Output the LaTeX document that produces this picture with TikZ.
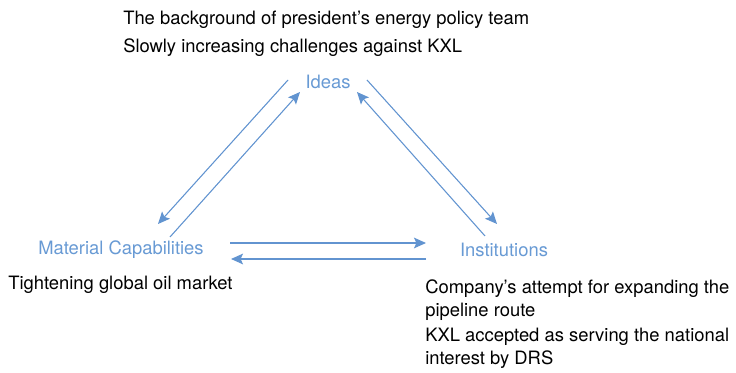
\documentclass[tikz,border=0pt]{standalone}
\usepackage{fontspec}
\setmainfont{TeX Gyre Heros}
\usepackage{tikz}
\usetikzlibrary{arrows.meta}

\definecolor{flowblue}{RGB}{98,148,208}
\definecolor{labelblue}{RGB}{104,154,212}

\tikzset{
  factor/.style={text=labelblue, inner sep=0pt, font=\fontsize{13.8}{17}\selectfont},
  note/.style={text=black, inner sep=0pt, align=left, font=\fontsize{13.8}{17.25}\selectfont},
  flow/.style={draw=flowblue, fill=flowblue, line width=0.8pt, -{Stealth[length=9pt,width=8pt,inset=1.8pt]}}
}

\begin{document}
\begin{tikzpicture}[x=0.75pt, y=-0.75pt]
  \useasboundingbox (0,0) rectangle (736,373);

  % the three factors
  \node[factor] (ideas) at (328,82) {Ideas};
  \node[factor] (matcap) at (121,250) {Material Capabilities};
  \node[factor] (inst) at (504,250) {Institutions};

  % notes (base = last line)
  \node[note, anchor=base west] (bg) at (123,25) {The background of president's energy policy team};
  \node[note, anchor=base west] (chal) at (123,53) {Slowly increasing challenges against KXL};
  \node[note, anchor=base west] (oil) at (8,290) {Tightening global oil market};
  \node[note, anchor=base west] (route) at (425,317) {Company's attempt for expanding the\\pipeline route};
  \node[note, anchor=base west] (drs) at (425,365) {KXL accepted as serving the national\\interest by DRS};

  \path
    ([shift={(-40,-2)}]ideas.center) edge[flow] ([shift={(37,-26)}]matcap.center)
    ([shift={(49,-13)}]matcap.center) edge[flow] ([shift={(-28,10)}]ideas.center)
    ([shift={(39,-2)}]ideas.center) edge[flow] ([shift={(-7,-26)}]inst.center)
    ([shift={(-19,-14)}]inst.center) edge[flow] ([shift={(29,10)}]ideas.center)
    ([shift={(109,-7)}]matcap.center) edge[flow] ([shift={(-78,-7)}]inst.center)
    ([shift={(-78,9)}]inst.center) edge[flow] ([shift={(110,9)}]matcap.center);
\end{tikzpicture}
\end{document}
